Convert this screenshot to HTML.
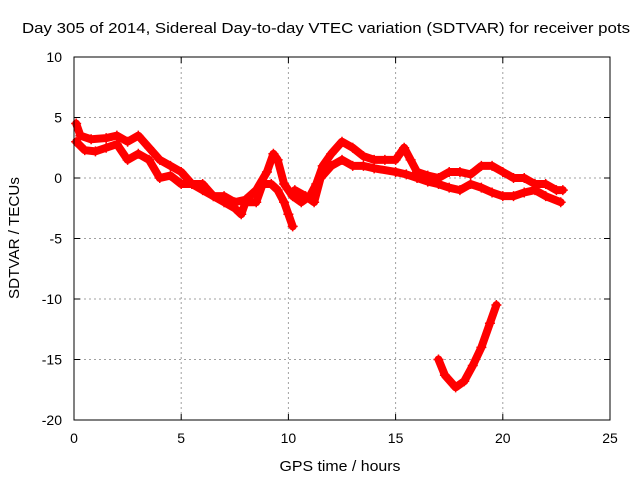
<!DOCTYPE html>
<html><head><meta charset="utf-8"><style>
body{margin:0;background:#fff}
svg{display:block;font-family:"Liberation Sans",sans-serif}
</style></head><body>
<svg id="c" width="640" height="480" viewBox="0 0 640 480">
<rect width="640" height="480" fill="#fff"/>
<text x="326" y="33" font-size="15" text-anchor="middle" textLength="608" lengthAdjust="spacingAndGlyphs">Day 305 of 2014, Sidereal Day-to-day VTEC variation (SDTVAR) for receiver pots</text>
<text x="340" y="471" font-size="15" text-anchor="middle" textLength="121" lengthAdjust="spacingAndGlyphs">GPS time / hours</text>
<text transform="translate(19,238) rotate(-90)" font-size="15" text-anchor="middle" textLength="122" lengthAdjust="spacingAndGlyphs">SDTVAR / TECUs</text>
<g id="grid"></g><g id="ticks"></g><g id="marks"></g>
<rect x="74" y="57" width="536" height="363" fill="none" stroke="#000"/>
</svg>
<script>
const xTicks=[0,5,10,15,20,25];
const yTicks=[10,5,0,-5,-10,-15,-20];
const trackA=[[0.1,4.5],[0.3,3.5],[0.8,3.2],[1.5,3.3],[2,3.5],[2.5,3],[3,3.5],[3.5,2.5],[4,1.5],[4.5,1],[5,0.5],[5.5,-0.5],[6,-1],[6.5,-1.5],[7,-1.5],[7.5,-2],[8,-1.8],[8.5,-1],[9,0.5],[9.3,2],[9.5,1.5],[9.8,-0.5],[10.2,-1.5],[10.6,-2],[11,-1.5],[11.3,-0.5],[11.6,1],[12,2],[12.5,3],[13,2.5],[13.5,1.8],[14,1.5],[14.5,1.5],[15,1.5],[15.4,2.5],[15.7,1.5],[16,0.5],[16.5,0.2],[17,0],[17.5,0.5],[18,0.5],[18.5,0.3],[19,1],[19.5,1],[20,0.5],[20.5,0],[21,0],[21.5,-0.5],[22,-0.5],[22.5,-1],[22.8,-1]];
const trackB1=[[0.1,3],[0.5,2.3],[1,2.2],[1.5,2.5],[2,2.8],[2.5,1.5],[3,2],[3.5,1.5],[4,0],[4.5,0.2],[5,-0.5],[5.5,-0.5],[6,-0.5],[6.5,-1.5],[7,-2],[7.5,-2.5],[7.8,-3],[8,-2],[8.5,-2],[8.8,-0.5],[9.2,-0.5],[9.5,-1],[9.8,-2],[10,-3],[10.2,-4]];
const trackB2=[[10.3,-1],[10.8,-1.5],[11.2,-2],[11.5,0],[12,1],[12.5,1.5],[13,1],[13.5,1],[14,0.8],[15,0.5],[15.5,0.3],[16,0],[16.5,-0.3],[17,-0.5],[17.5,-0.8],[18,-1],[18.5,-0.5],[19,-0.8],[19.5,-1.2],[20,-1.5],[20.5,-1.5],[21,-1.2],[21.5,-1],[22,-1.5],[22.7,-2]];
const trackC=[[17,-15],[17.3,-16.3],[17.8,-17.3],[18.2,-16.8],[18.6,-15.5],[19,-14],[19.4,-12],[19.7,-10.5]];
const X=v=>74+v*536/25, Y=v=>178-v*12.1;
const NS="http://www.w3.org/2000/svg";
function mk(t,a,p){const e=document.createElementNS(NS,t);for(const k in a)e.setAttribute(k,a[k]);p.appendChild(e);return e;}
const grid=document.getElementById('grid'),ticks=document.getElementById('ticks'),marks=document.getElementById('marks');
xTicks.forEach(t=>{
 if(t>0&&t<25){const g=mk('line',{x1:X(t),x2:X(t),y1:57,y2:420,stroke:'#a0a0a0','stroke-dasharray':'2,3'},grid);
 
 }
 mk('line',{x1:X(t),x2:X(t),y1:420,y2:414,stroke:'#000'},ticks);
 mk('line',{x1:X(t),x2:X(t),y1:57,y2:63,stroke:'#000'},ticks);
 const l=mk('text',{x:X(t),y:443,'font-size':14,'text-anchor':'middle'},ticks);l.textContent=t;
 
 
});
yTicks.forEach(t=>{
 if(t>-20&&t<10){const g=mk('line',{x1:74,x2:610,y1:Y(t),y2:Y(t),stroke:'#a0a0a0','stroke-dasharray':'2,3'},grid);
 
 }
 mk('line',{x1:74,x2:80,y1:Y(t),y2:Y(t),stroke:'#000'},ticks);
 mk('line',{x1:604,x2:610,y1:Y(t),y2:Y(t),stroke:'#000'},ticks);
 const l=mk('text',{x:62,y:Y(t)+5,'font-size':14,'text-anchor':'end'},ticks);l.textContent=t;
 
 
});
[trackA,trackB1,trackB2,trackC].forEach((tr,i)=>{
 const p=mk('polyline',{points:tr.map(d=>X(d[0])+','+Y(d[1])).join(' '),fill:'none',stroke:'#f00','stroke-width':8,'stroke-linejoin':'round','stroke-linecap':'round'},marks);
 
 
 tr.forEach(d=>{
  const x=X(d[0]),y=Y(d[1]);
  const m=mk('path',{d:`M${x-5},${y}H${x+5}M${x},${y-5}V${y+5}`,stroke:'#f00','stroke-width':1.5},marks);
  
  
 });
});
</script>
</body></html>
